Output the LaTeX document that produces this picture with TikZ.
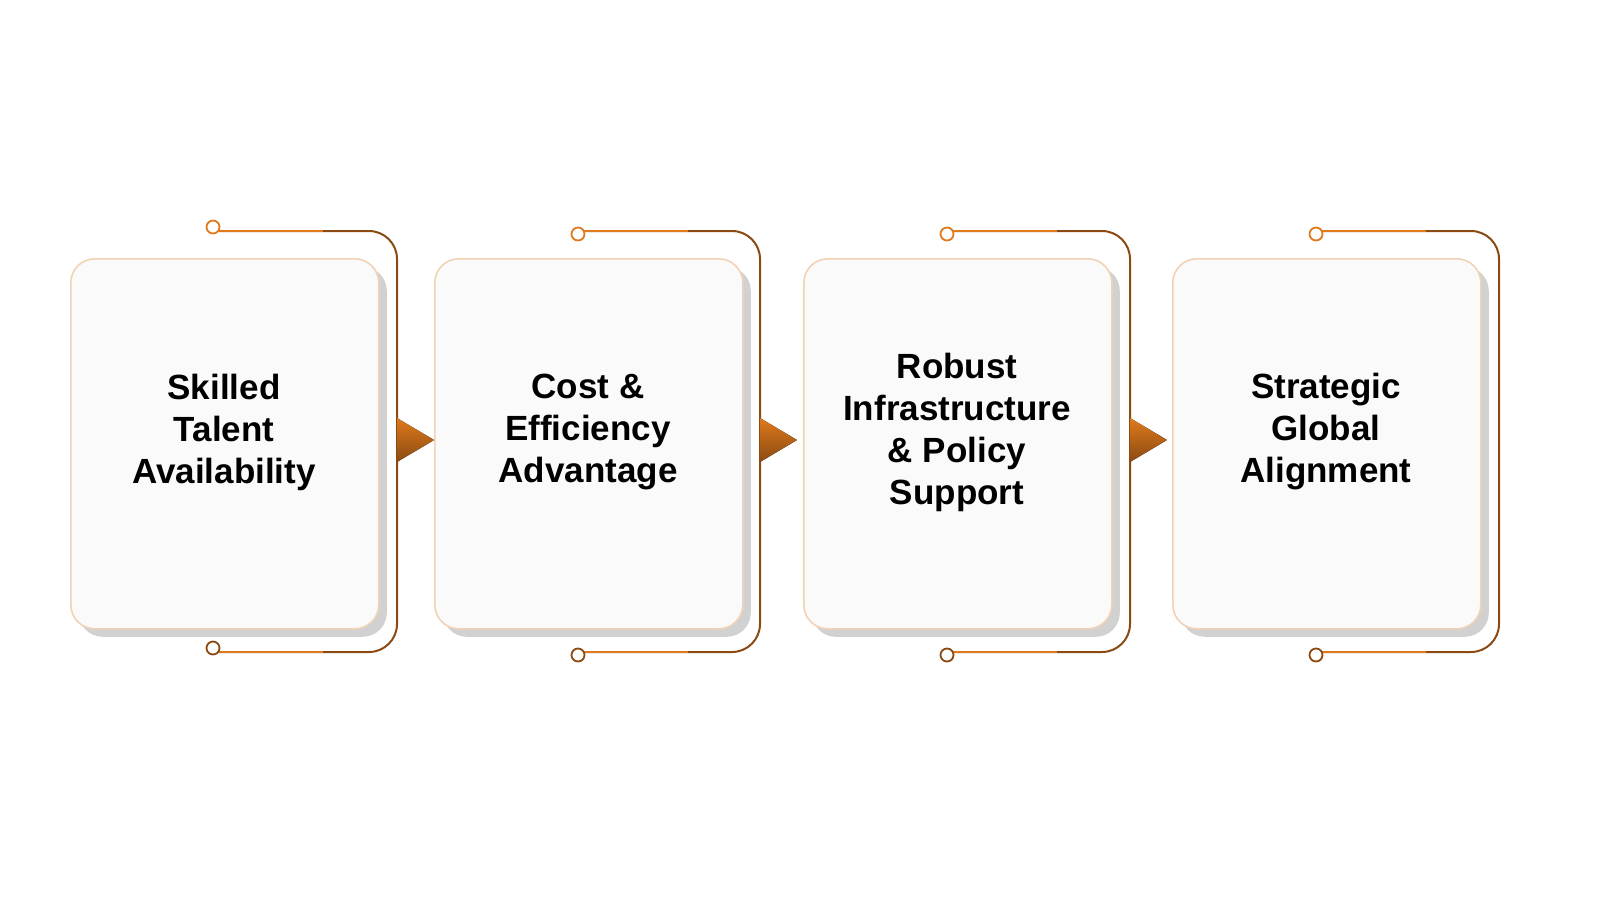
\documentclass[tikz,border=0pt]{standalone}
\usepackage{fontspec}
\setmainfont{Liberation Sans}
\usetikzlibrary{shadows}
\definecolor{org}{HTML}{E07A1C}
\definecolor{brn}{HTML}{8A4A12}
\definecolor{boxfill}{HTML}{FAFAFA}
\definecolor{boxedge}{HTML}{F2D2B4}
\begin{document}
\begin{tikzpicture}[x=0.5pt,y=-0.5pt,
  card/.style={draw=boxedge,line width=0.8pt,fill=boxfill,rounded corners=12pt,
    minimum width=154pt,minimum height=185pt,anchor=north west,
    drop shadow={shadow xshift=4pt,shadow yshift=-4pt,opacity=0.3,fill=black!60},
    align=center},
  brk/.style={line width=1pt,draw=brn},
  dot/.style={circle,draw=org,line width=0.9pt,fill=white,inner sep=0pt,minimum size=6.5pt},
  tri/.style={top color=org,bottom color=brn,draw=none},
  lbl/.style={font=\bfseries\fontsize{17.5}{21}\selectfont,align=center}]
\foreach \i/\bx/\cx/\rx/\cyT/\cyB/\txt in {
  1/70/213/397/227/648/{Skilled\\Talent\\Availability},
  2/434/578/760/234/655/{Cost \&\\Efficiency\\Advantage},
  3/803/947/1130/234/655/{Robust\\Infrastructure\\\& Policy\\Support},
  4/1172/1316/1499/234/655/{Strategic\\Global\\Alignment}}{
  \coordinate (t\i) at (\cx+6,231);
  \coordinate (b\i) at (\cx+6,652);
  \draw[brk] (t\i) -- (\rx-28,231) arc[start angle=90,end angle=0,radius=14pt] -- (\rx,624) arc[start angle=0,end angle=-90,radius=14pt] -- (b\i);
  \draw[org,line width=1pt] (t\i) -- (\cx+110,231);
  \draw[org,line width=1pt] (b\i) -- (\cx+110,652);
  \node[dot] (ct\i) at (\cx,\cyT) {};
  \node[dot,draw=brn] (cb\i) at (\cx,\cyB) {};
  \node[card] (n\i) at (\bx,258) {};
  \node[lbl] (l\i) at (\bx+154,432) {\txt};
}
\foreach \rx in {397,760,1130}{
  \fill[tri] (\rx,418) -- (\rx+37,440) -- (\rx,462) -- cycle;
}
\pgfresetboundingbox
\path[use as bounding box] (0,0) rectangle (1600,900);
\end{tikzpicture}
\end{document}
